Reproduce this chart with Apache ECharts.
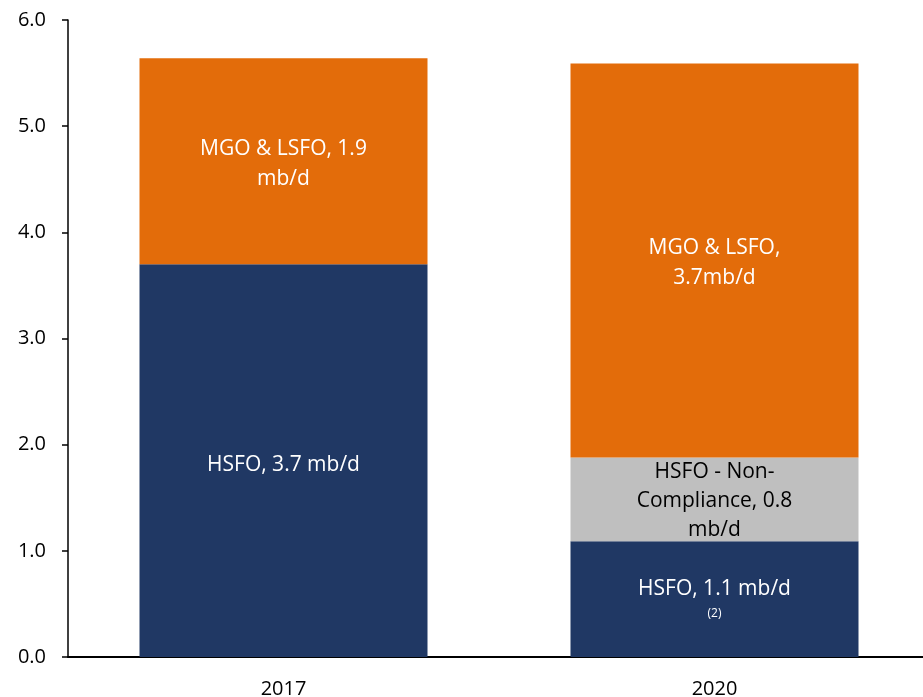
<!DOCTYPE html>
<html>
<head>
<meta charset="utf-8">
<script src="https://cdn.jsdelivr.net/npm/echarts@6/dist/echarts.min.js"></script>
<style>html,body{margin:0;padding:0;background:#fff}#c{width:923px;height:697px}</style>
</head>
<body>
<div id="c"></div>
<script>
const categories = ['2017', '2020'];
const hsfoValues = [3.7, 1.09];
const nonComplianceValues = [null, 0.79];
const mgoValues = [1.94, 3.71];
const hsfoLabels = ['HSFO, 3.7 mb/d', 'HSFO, 1.1 mb/d'];
const hsfoNotes = ['', '(2)'];
const nonComplianceLabels = ['', 'HSFO - Non-\nCompliance, 0.8\nmb/d'];
const mgoLabels = ['MGO & LSFO, 1.9\nmb/d', 'MGO & LSFO,\n3.7mb/d'];
const yTicks = [0, 1, 2, 3, 4, 5, 6];

const FONT = 'Open Sans';
const chart = echarts.init(document.getElementById('c'));

function mk(values, labels, textColor, notes, fontSize, lineHeight, dy) {
  return values.map((v, i) => {
    if (v == null) return null;
    const lbl = {
      show: true, position: 'inside', color: textColor, offset: [0, dy],
      fontFamily: FONT, fontSize: fontSize, lineHeight: lineHeight
    };
    if (notes && notes[i]) {
      lbl.offset = [0, 0];
      lbl.formatter = '{a|' + labels[i] + '}\n{b|' + notes[i] + '}';
      lbl.rich = {
        a: {color: textColor, fontFamily: FONT, fontSize: fontSize, lineHeight: 28},
        b: {color: textColor, fontFamily: FONT, fontSize: 12, lineHeight: 20}
      };
    } else {
      lbl.formatter = labels[i];
    }
    return {value: v, label: lbl};
  });
}

chart.setOption({
  animation: false,
  grid: {left: 68, width: 862, top: 20, bottom: 40, containLabel: false, outerBoundsMode: 'none'},
  xAxis: {
    type: 'category', data: categories,
    axisLine: {lineStyle: {color: '#000', width: 2}},
    axisTick: {show: false},
    axisLabel: {color: '#000', fontFamily: FONT, fontSize: 20, margin: 22}
  },
  yAxis: {
    type: 'value', min: yTicks[0], max: yTicks[yTicks.length - 1], interval: 1,
    axisLine: {show: true, lineStyle: {color: '#000', width: 1.5}},
    axisTick: {show: true, length: 6, lineStyle: {color: '#000', width: 1.5}},
    splitLine: {show: false},
    axisLabel: {color: '#000', fontFamily: FONT, fontSize: 20, margin: 22,
      formatter: v => v.toFixed(1)}
  },
  series: [
    {type: 'bar', stack: 's', barWidth: 288, itemStyle: {color: '#203864'},
     data: mk(hsfoValues, hsfoLabels, '#fff', hsfoNotes, 21, 30, 4)},
    {type: 'bar', stack: 's', barWidth: 288, itemStyle: {color: '#BFBFBF'},
     data: mk(nonComplianceValues, nonComplianceLabels, '#000', null, 21, 29, 2)},
    {type: 'bar', stack: 's', barWidth: 288, itemStyle: {color: '#E36C0A'},
     data: mk(mgoValues, mgoLabels, '#fff', null, 21, 30, 3)}
  ]
});
</script>
</body>
</html>
